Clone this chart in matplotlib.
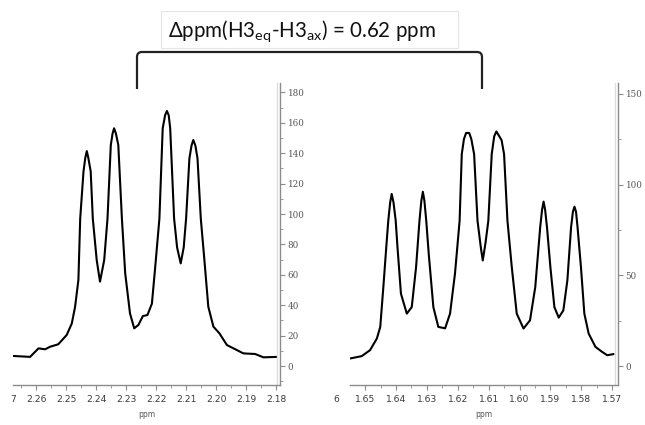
import numpy as np
import matplotlib
matplotlib.use('Agg')
import matplotlib.pyplot as plt
from matplotlib.path import Path
from matplotlib.patches import PathPatch, Rectangle
from matplotlib.ticker import MultipleLocator, FormatStrFormatter

# ---------------- data ----------------
# H3 equatorial multiplet (left panel)
eq_ppm = [2.2676, 2.2620, 2.2592, 2.2570, 2.2553, 2.2526, 2.2498, 2.2481, 2.2470,
          2.2459, 2.2453, 2.2442, 2.2436, 2.2431, 2.2426, 2.2418, 2.2411, 2.2398,
          2.2387, 2.2373, 2.2362, 2.2351, 2.2345, 2.2340, 2.2334, 2.2326, 2.2314,
          2.2303, 2.2287, 2.2273, 2.2259, 2.2244, 2.2229, 2.2214, 2.2203, 2.2189,
          2.2178, 2.2170, 2.2164, 2.2158, 2.2153, 2.2140, 2.2130, 2.2118, 2.2108,
          2.2100, 2.2089, 2.2082, 2.2076, 2.2069, 2.2062, 2.2051, 2.2040, 2.2026,
          2.2009, 2.1989, 2.1964, 2.1942, 2.1909, 2.1870, 2.1842, 2.1798]
eq_int = [6.6, 6.0, 11.6, 11.0, 12.7, 14.3, 20.4, 28.0, 39.0,
          56.6, 97.0, 128.0, 137.0, 141.4, 137.0, 128.0, 97.0, 69.7,
          55.5, 69.7, 97.0, 145.4, 153.0, 156.4, 153.0, 145.4, 97.0,
          61.0, 34.6, 24.8, 27.0, 32.9, 33.5, 41.0, 65.0, 97.0,
          156.4, 165.0, 167.8, 165.0, 156.4, 97.0, 78.0, 67.5, 78.0,
          97.0, 136.6, 145.0, 148.7, 145.0, 136.6, 97.0, 72.0, 39.0,
          25.9, 21.5, 13.8, 11.6, 8.3, 7.9, 5.7, 6.0]

# H3 axial multiplet (right panel)
ax_ppm = [1.6549, 1.6511, 1.6484, 1.6462, 1.6451, 1.6441, 1.6430, 1.6425, 1.6419,
          1.6414, 1.6408, 1.6401, 1.6395, 1.6384, 1.6365, 1.6349, 1.6335, 1.6324,
          1.6318, 1.6313, 1.6308, 1.6302, 1.6294, 1.6279, 1.6263, 1.6241, 1.6225,
          1.6209, 1.6194, 1.6187, 1.6180, 1.6173, 1.6163, 1.6156, 1.6147, 1.6136,
          1.6125, 1.6119, 1.6110, 1.6101, 1.6090, 1.6082, 1.6075, 1.6067, 1.6058,
          1.6050, 1.6039, 1.6025, 1.6009, 1.5987, 1.5966, 1.5949, 1.5933, 1.5927,
          1.5922, 1.5917, 1.5911, 1.5900, 1.5887, 1.5873, 1.5858, 1.5845, 1.5833,
          1.5827, 1.5822, 1.5817, 1.5812, 1.5801, 1.5790, 1.5776, 1.5754, 1.5733,
          1.5716, 1.5696]
ax_int = [4.2, 5.5, 8.8, 15.2, 21.6, 43.5, 69.0, 80.1, 90.0,
          94.8, 90.0, 80.1, 65.0, 39.9, 28.9, 32.5, 54.5, 80.0,
          91.0, 96.0, 91.0, 80.0, 61.8, 32.5, 21.6, 20.8, 28.9,
          50.9, 80.0, 116.7, 125.0, 128.4, 128.4, 125.0, 116.7, 80.0,
          65.0, 58.2, 68.0, 80.0, 116.7, 126.5, 129.2, 127.0, 124.4,
          116.7, 80.0, 54.5, 28.9, 20.7, 25.2, 43.5, 76.5, 86.0,
          90.6, 86.0, 76.5, 54.5, 32.5, 26.7, 30.7, 47.2, 76.5,
          85.0, 87.8, 85.0, 76.5, 54.5, 28.9, 17.9, 10.6, 7.9,
          6.0, 6.6]

title_text = r"Δppm(H3$_{\mathrm{eq}}$-H3$_{\mathrm{ax}}$) = 0.62 ppm"
xlabel_text = "ppm"

# ---------------- figure ----------------
W, H = 645, 425
fig = plt.figure(figsize=(W / 100, H / 100), dpi=100)
fig.patch.set_facecolor('white')
plt.rcParams['mathtext.fontset'] = 'custom'
plt.rcParams['mathtext.rm'] = 'Lato'


def ax_px(x0, y0, x1, y1):
    return [x0 / W, 1 - y1 / H, (x1 - x0) / W, (y1 - y0) / H]


AX_COL = '#8c8c8c'
LAB_COL = '#3a3a3a'


def style(ax, xlim, ylim, ymaj):
    ax.set_xlim(*xlim)
    ax.set_ylim(*ylim)
    ax.patch.set_visible(False)
    for s in ['top', 'left']:
        ax.spines[s].set_visible(False)
    for s in ['bottom', 'right']:
        ax.spines[s].set_color(AX_COL)
        ax.spines[s].set_linewidth(1.0)
    ax.yaxis.tick_right()
    ax.xaxis.set_major_locator(MultipleLocator(0.01))
    ax.xaxis.set_minor_locator(MultipleLocator(0.005))
    ax.xaxis.set_major_formatter(FormatStrFormatter('%.2f'))
    ax.yaxis.set_major_locator(MultipleLocator(ymaj))
    ax.yaxis.set_minor_locator(MultipleLocator(ymaj / 2))
    ax.tick_params(axis='x', which='major', direction='out', length=3.5, width=0.8,
                   colors=AX_COL, labelcolor=LAB_COL, labelsize=6.6, pad=4)
    ax.tick_params(axis='x', which='minor', direction='out', length=2, width=0.6,
                   colors=AX_COL)
    ax.tick_params(axis='y', which='major', direction='out', length=3.5, width=0.8,
                   colors=AX_COL, labelcolor='#555555', labelsize=6.3, pad=2)
    ax.tick_params(axis='y', which='minor', direction='out', length=2.5, width=0.6,
                   colors=AX_COL)
    for lab in ax.get_yticklabels():
        lab.set_fontfamily('DejaVu Serif')
    ax.set_xlabel(xlabel_text, fontsize=5.5, color='#555555', labelpad=4)
    # faint second line next to the vertical axis
    ax.plot([0.988, 0.988], [0, 1], transform=ax.transAxes, color='#dddddd',
            lw=1.0, clip_on=False)


ax1 = fig.add_axes(ax_px(13, 83, 280, 385))
ax1.plot(eq_ppm, eq_int, color='black', lw=1.5, solid_joinstyle='round')
style(ax1, (2.2677, 2.1787), (-12.5, 186.2), 20)

ax2 = fig.add_axes(ax_px(350, 83, 618, 385))
ax2.plot(ax_ppm, ax_int, color='black', lw=1.5, solid_joinstyle='round')
style(ax2, (1.6549, 1.5681), (-10.4, 155.9), 50)

# ---------------- overlay (pixel coordinates) ----------------
ov = fig.add_axes([0, 0, 1, 1], zorder=5)
ov.set_xlim(0, W)
ov.set_ylim(H, 0)
ov.axis('off')
ov.patch.set_visible(False)

ov.add_patch(Rectangle((161, 11), 297, 37, facecolor='white', edgecolor='#e4e4e4', lw=0.8))
ov.text(302, 31, title_text, ha='center', va='center', fontsize=14.8,
        family=['Lato', 'DejaVu Sans'], color='#111111')

r = 5
verts = [(137, 89), (137, 52 + r), (137, 52), (137 + r, 52), (482 - r, 52),
         (482, 52), (482, 52 + r), (482, 89)]
codes = [Path.MOVETO, Path.LINETO, Path.CURVE3, Path.CURVE3, Path.LINETO,
         Path.CURVE3, Path.CURVE3, Path.LINETO]
ov.add_patch(PathPatch(Path(verts, codes), facecolor='none', edgecolor='#222222', lw=1.6,
                       capstyle='butt'))

# clipped tick-label fragments at the left edges of the two panels
ov.text(13, 400, "7", ha='center', va='center', fontsize=6.6, color=LAB_COL)
ov.text(336, 400, "6", ha='center', va='center', fontsize=6.6, color=LAB_COL)

fig.savefig('out.png', dpi=100, facecolor='white')
